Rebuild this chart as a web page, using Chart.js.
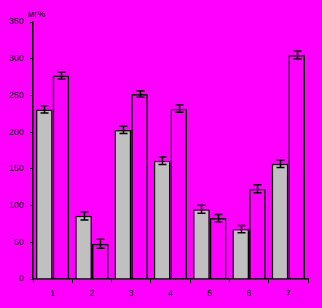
<!DOCTYPE html>
<html>
<head>
<meta charset="utf-8">
<script src="https://cdn.jsdelivr.net/npm/chart.js@4/dist/chart.umd.min.js"></script>
<style>
html,body{margin:0;padding:0;background:#FF00FF;}
#wrap{width:322px;height:308px;position:relative;}
</style>
</head>
<body>
<div id="wrap"><canvas id="c" width="322" height="308"></canvas></div>
<script>
const categories = ['1','2','3','4','5','6','7'];
const series1 = [231, 86, 203, 161, 95, 68, 157];
const series1Err = [5, 5.5, 5, 5, 5.5, 5, 5];
const series2 = [277, 48, 252, 232, 83, 123, 305];
const series2Err = [5, 6, 4.5, 5, 5, 5.5, 5.5];
const yTicks = [0, 50, 100, 150, 200, 250, 300, 350];
const unitLabel = 'мг%';

const errs = [series1Err, series2Err];

const errorBarPlugin = {
  id: 'errorBars',
  afterDatasetsDraw(chart) {
    const ctx = chart.ctx;
    const y = chart.scales.y;
    ctx.save();
    ctx.strokeStyle = '#000';
    ctx.lineWidth = 1.5;
    chart.data.datasets.forEach((ds, di) => {
      const meta = chart.getDatasetMeta(di);
      meta.data.forEach((bar, i) => {
        const v = ds.data[i], e = errs[di][i];
        const x = Math.round(bar.x) + 0.5;
        const yt = y.getPixelForValue(v + e);
        const yb = y.getPixelForValue(v - e);
        ctx.beginPath();
        ctx.moveTo(x, yt); ctx.lineTo(x, yb);
        ctx.moveTo(x - 4, yt); ctx.lineTo(x + 4, yt);
        ctx.moveTo(x - 4, yb); ctx.lineTo(x + 4, yb);
        ctx.stroke();
      });
    });
    ctx.restore();
  }
};

const unitPlugin = {
  id: 'unitLabel',
  afterDraw(chart) {
    const ctx = chart.ctx;
    const a = chart.chartArea;
    ctx.save();
    ctx.fillStyle = '#000';
    ctx.font = '9px "Liberation Sans", Arial, sans-serif';
    ctx.textAlign = 'left';
    ctx.textBaseline = 'middle';
    ctx.fillText(unitLabel, a.left - 5, a.top - 7);
    ctx.restore();
  }
};

const bgPlugin = {
  id: 'bg',
  beforeDraw(chart) {
    const ctx = chart.ctx;
    ctx.save();
    ctx.fillStyle = '#FF00FF';
    ctx.fillRect(0, 0, chart.width, chart.height);
    ctx.restore();
  }
};

new Chart(document.getElementById('c'), {
  type: 'bar',
  data: {
    labels: categories,
    datasets: [
      { data: series1, backgroundColor: '#C0C0C0', borderColor: '#000', borderWidth: 1.5,
        barPercentage: 1, categoryPercentage: 0.85 },
      { data: series2, backgroundColor: 'rgba(0,0,0,0)', borderColor: '#000', borderWidth: 1.5,
        barPercentage: 1, categoryPercentage: 0.85 }
    ]
  },
  options: {
    responsive: false,
    animation: false,
    devicePixelRatio: 1,
    layout: { padding: { top: 22, right: 14, left: 0, bottom: 0 } },
    plugins: { legend: { display: false }, tooltip: { enabled: false }, title: { display: false } },
    scales: {
      x: {
        grid: { display: true, drawOnChartArea: false, offset: true, tickLength: 4, color: '#000', lineWidth: 1 },
        border: { display: true, color: '#000', width: 1.5 },
        ticks: { color: '#000', font: { family: '"Liberation Sans", Arial, sans-serif', size: 9 }, padding: 5, maxRotation: 0 },
        afterFit(s) { s.height = 29; }
      },
      y: {
        min: 0, max: 350,
        afterBuildTicks(s) { s.ticks = yTicks.map(v => ({ value: v })); },
        grid: { display: true, drawOnChartArea: false, tickLength: 3, color: '#000', lineWidth: 1 },
        border: { display: true, color: '#000', width: 1.5 },
        ticks: { color: '#000', font: { family: '"Liberation Sans", Arial, sans-serif', size: 9 }, padding: 6 },
        afterFit(s) { s.width = 33; }
      }
    }
  },
  plugins: [bgPlugin, errorBarPlugin, unitPlugin]
});
</script>
</body>
</html>
